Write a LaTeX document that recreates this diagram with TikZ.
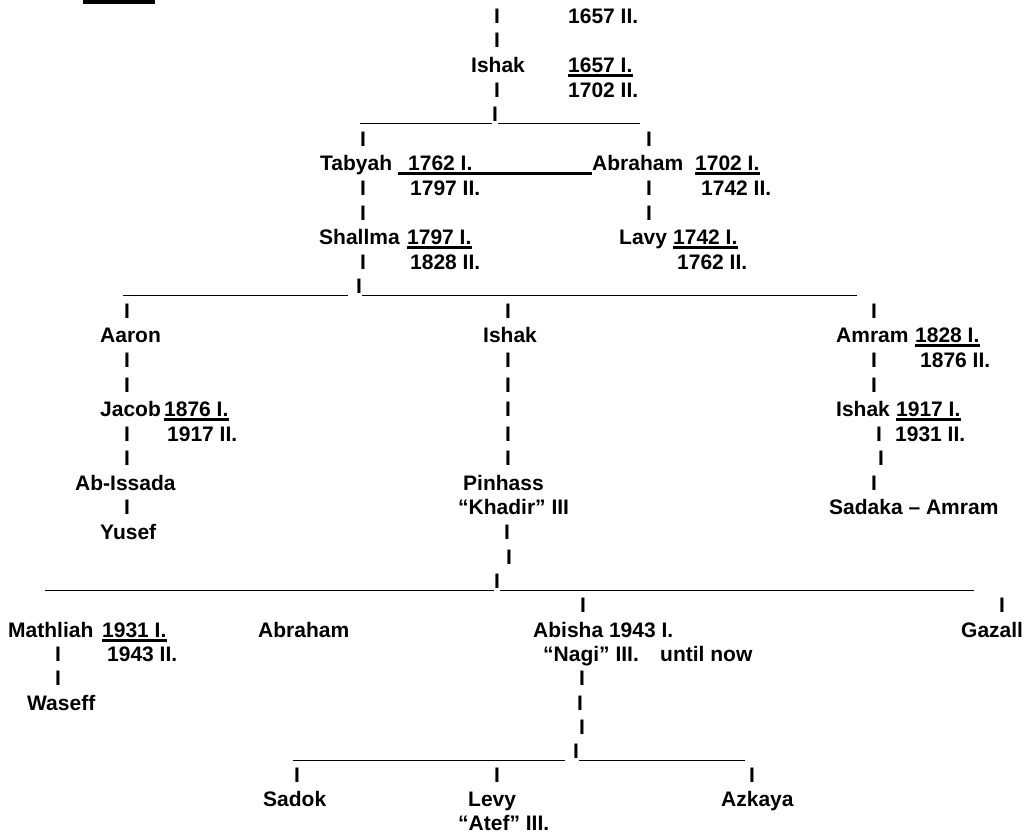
\documentclass[tikz,border=0pt]{standalone}
\usepackage{fontspec}
\setmainfont{Liberation Sans}
\begin{document}
\begin{tikzpicture}[x=1pt,y=-1pt,
  txt/.style={font=\fontsize{21}{25}\selectfont\bfseries, inner sep=0pt, anchor=base west},
  bar/.style={font=\fontsize{21}{25}\selectfont\bfseries, inner sep=0pt, anchor=base},
  uline/.style={line width=2.6pt},
  hline/.style={line width=1.5pt}]
\useasboundingbox (0,0) rectangle (1024,835);
\fill (83,0) rectangle (155,3.5);
% ---- top: Ishak
\node[bar] (b1) at (497,23) {I};
\node[txt] (y1657b) at (568,23) {1657 II.};
\node[bar] (b2) at (497,47) {I};
\node[txt] (ishakA) at (471,72) {Ishak};
\node[txt] (y1657a) at (568,72) {1657 I.};
\node[bar] (b3) at (497,97) {I};
\node[txt] (y1702b) at (568,97) {1702 II.};
\node[bar] (b4) at (495,121) {I};
\coordinate (h1a) at (360,123.5);
\coordinate (h1b) at (640,123.5);
\draw[hline] (h1a) -- (h1a -| b4.west);
\draw[hline] (h1a -| b4.east) -- (h1b);
% ---- Tabyah / Abraham
\node[bar] (b5) at (363,146) {I};
\node[bar] (b6) at (649,146) {I};
\node[txt] (tabyah) at (320,170) {Tabyah};
\node[txt] (y1762a) at (408,170) {1762 I.};
\node[txt] (abrahamA) at (592,170) {Abraham};
\node[txt] (y1702a) at (695,170) {1702 I.};
\coordinate (u1) at (398,173.5);
\draw[uline] (u1) -- (u1 -| abrahamA.west);
\node[bar] (b7) at (363,195) {I};
\node[txt] (y1797b) at (410,195) {1797 II.};
\node[bar] (b8) at (649,195) {I};
\node[txt] (y1742b) at (701,195) {1742 II.};
\node[bar] (b9) at (363,220) {I};
\node[bar] (b10) at (649,220) {I};
\node[txt] (shallma) at (319,244) {Shallma};
\node[txt] (y1797a) at (407,244) {1797 I.};
\node[txt] (lavy) at (619,244) {Lavy};
\node[txt] (y1742a) at (673,244) {1742 I.};
\node[bar] (b11) at (363,269) {I};
\node[txt] (y1828b) at (410,269) {1828 II.};
\node[txt] (y1762b) at (677,269) {1762 II.};
\node[bar] (b12) at (359,293) {I};
\coordinate (h2a) at (123,295.5);
\coordinate (h2b) at (857,295.5);
\draw[hline] (h2a) -- ([xshift=-8pt]h2a -| b12.west);
\draw[hline] (h2a -| b12.east) -- (h2b);
% ---- Aaron / Ishak / Amram
\node[bar] (b13) at (127,318) {I};
\node[bar] (b14) at (508,318) {I};
\node[bar] (b15) at (874,318) {I};
\node[txt] (aaron) at (100,342) {Aaron};
\node[txt] (ishakB) at (483,342) {Ishak};
\node[txt] (amram) at (836,342) {Amram};
\node[txt] (y1828a) at (915,342) {1828 I.};
\node[bar] (b16) at (127,367) {I};
\node[bar] (b17) at (508,367) {I};
\node[bar] (b18) at (874,367) {I};
\node[txt] (y1876b) at (920,367) {1876 II.};
\node[bar] (b19) at (127,392) {I};
\node[bar] (b20) at (508,392) {I};
\node[bar] (b21) at (874,392) {I};
\node[txt] (jacob) at (100,416) {Jacob};
\node[txt] (y1876a) at (164,416) {1876 I.};
\node[bar] (b22) at (508,416) {I};
\node[txt] (ishakC) at (836,416) {Ishak};
\node[txt] (y1917a) at (896,416) {1917 I.};
\node[bar] (b23) at (127,441) {I};
\node[txt] (y1917b) at (167,441) {1917 II.};
\node[bar] (b24) at (508,441) {I};
\node[bar] (b25) at (879,441) {I};
\node[txt] (y1931b) at (895,441) {1931 II.};
\node[bar] (b26) at (127,465) {I};
\node[bar] (b27) at (508,465) {I};
\node[bar] (b28) at (881,465) {I};
\node[txt] (abissada) at (75,490) {Ab-Issada};
\node[txt] (pinhass) at (463,490) {Pinhass};
\node[bar] (b29) at (874,490) {I};
\node[bar] (b30) at (127,514) {I};
\node[txt] (khadir) at (458,514) {“Khadir” III};
\node[txt] (sadaka) at (829,514) {Sadaka – Amram};
\node[txt] (yusef) at (100,539) {Yusef};
\node[bar] (b31) at (507,539) {I};
\node[bar] (b32) at (509,564) {I};
\node[bar] (b33) at (497,588) {I};
\coordinate (h3a) at (45,590.5);
\coordinate (h3b) at (974,590.5);
\draw[hline] (h3a) -- (h3a -| b33.west);
\draw[hline] (h3a -| b33.east) -- (h3b);
% ---- Mathliah / Abraham / Abisha / Gazall
\node[bar] (b34) at (583,612) {I};
\node[bar] (b35) at (1002,612) {I};
\node[txt] (mathliah) at (8,637) {Mathliah};
\node[txt] (y1931a) at (102,637) {1931 I.};
\node[txt] (abrahamB) at (258,637) {Abraham};
\node[txt] (abisha) at (533,637) {Abisha 1943 I.};
\node[txt] (gazall) at (961,637) {Gazall};
\node[bar] (b36) at (58,661) {I};
\node[txt] (y1943b) at (107,661) {1943 II.};
\node[txt] (nagi) at (543,661) {“Nagi” III.};
\node[txt] (until) at (660,661) {until now};
\node[bar] (b37) at (58,685) {I};
\node[bar] (b38) at (582,685) {I};
\node[txt] (waseff) at (27,710) {Waseff};
\node[bar] (b39) at (580,710) {I};
\node[bar] (b40) at (582,734) {I};
\node[bar] (b41) at (576,758) {I};
\coordinate (h4a) at (293,760.5);
\coordinate (h4b) at (745,760.5);
\draw[hline] (h4a) -- ([xshift=-8pt]h4a -| b41.west);
\draw[hline] (h4a -| b41.east) -- (h4b);
\node[bar] (b42) at (297,782) {I};
\node[bar] (b43) at (497,782) {I};
\node[bar] (b44) at (752,782) {I};
\node[txt] (sadok) at (263,806) {Sadok};
\node[txt] (levy) at (468,806) {Levy};
\node[txt] (azkaya) at (721,806) {Azkaya};
\node[txt] (atef) at (458,830) {“Atef” III.};
% ---- underlines
\foreach \n in {y1657a,y1702a,y1797a,y1742a,y1828a,y1876a,y1917a,y1931a}
  \draw[uline] ([yshift=-3.5pt]\n.base west) -- ([yshift=-3.5pt]\n.base east);
\end{tikzpicture}
\end{document}
